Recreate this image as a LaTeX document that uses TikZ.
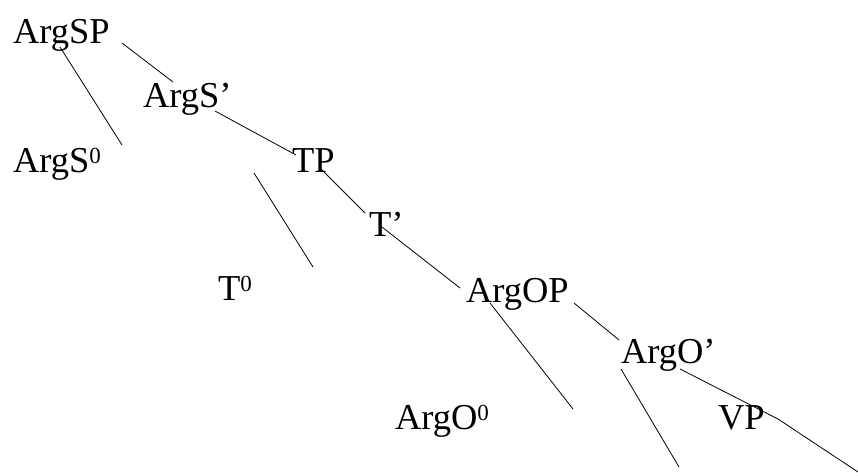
\documentclass[tikz,border=0pt]{standalone}
\usepackage{fontspec}
\setmainfont{Liberation Serif}
\newcommand{\supzero}{\raisebox{9pt}{\fontsize{23}{23}\selectfont 0}}
\begin{document}
\begin{tikzpicture}[x=1pt,y=-1pt,
  lab/.style={anchor=base west,inner sep=0pt,outer sep=0pt,font=\fontsize{36.5}{40}\selectfont},
  edge/.style={draw=black,line width=0.8pt}]
\useasboundingbox (0,0) rectangle (858,475);
% labels
\node[lab] (argsp) at (13,43) {ArgSP};
\node[lab] (argsbar) at (143,107) {ArgS’};
\node[lab] (args0) at (13,172) {ArgS\supzero};
\node[lab] (tp) at (292,172) {TP};
\node[lab] (tbar) at (369,236) {T’};
\node[lab] (t0) at (218,300) {T\supzero};
\node[lab] (argop) at (466,302) {ArgOP};
\node[lab] (argobar) at (621,363) {ArgO’};
\node[lab] (argo0) at (395,429) {ArgO\supzero};
\node[lab] (vp) at (718,429) {VP};
% line end points
\coordinate (a1) at (122,43);  \coordinate (a2) at (173,82);
\coordinate (b1) at (60,47);   \coordinate (b2) at (122,145);
\coordinate (c1) at (215,111); \coordinate (c2) at (296,155);
\coordinate (d1) at (254,173); \coordinate (d2) at (313,267);
\coordinate (e1) at (320,168); \coordinate (e2) at (365,213);
\coordinate (f1) at (382,227); \coordinate (f2) at (460,288);
\coordinate (g1) at (490,303); \coordinate (g2) at (573,409);
\coordinate (h1) at (574,303); \coordinate (h2) at (619,340);
\coordinate (i1) at (621,369); \coordinate (i2) at (679,467);
\coordinate (j1) at (680,369); \coordinate (j2) at (778,419); \coordinate (j3) at (858,472);
\draw[edge] (a1) -- (a2);
\draw[edge] (b1) -- (b2);
\draw[edge] (c1) -- (c2);
\draw[edge] (d1) -- (d2);
\draw[edge] (e1) -- (e2);
\draw[edge] (f1) -- (f2);
\draw[edge] (g1) -- (g2);
\draw[edge] (h1) -- (h2);
\draw[edge] (i1) -- (i2);
\draw[edge] (j1) -- (j2) -- (j3);
\end{tikzpicture}
\end{document}
